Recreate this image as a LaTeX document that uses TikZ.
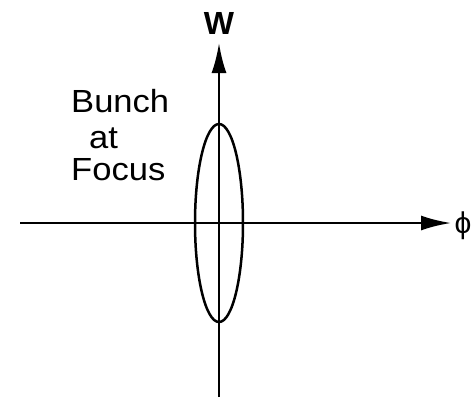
\documentclass[tikz,border=0pt]{standalone}
\usepackage{fontspec}
\setmainfont{Liberation Sans}
\usetikzlibrary{arrows.meta}

\tikzset{
  axis/.style={line width=2.5pt, -{Latex[length=30pt,width=15pt]}},
  lbl/.style={inner sep=0pt, anchor=base west, font=\fontsize{32}{34}\selectfont}
}
\newcommand{\wide}[1]{\scalebox{1.08}[1]{#1}}

\begin{document}
\begin{tikzpicture}[x=1pt,y=-1pt]
\useasboundingbox (0,0) rectangle (473,397);

\coordinate (o) at (219,223);
\coordinate (wbot) at (219,397);
\coordinate (wtop) at (219,43);
\coordinate (pleft) at (20,223);
\coordinate (pright) at (451,223);

\draw[axis] (wbot) -- (wtop);
\draw[axis] (pleft) -- (pright);

\draw[line width=2.5pt] (o) ellipse [x radius=24, y radius=99];

\node[inner sep=0pt, font=\bfseries\fontsize{32}{34}\selectfont] (w) at (219,23) {W};
\node[inner sep=0pt, font=\fontsize{30}{34}\selectfont] (phi) at (463,226) {ϕ};

\node[lbl] (bunch) at (71,112) {\wide{Bunch}};
\node[lbl] (at) at (89,148) {\wide{at}};
\node[lbl] (focus) at (71,180) {\wide{Focus}};
\end{tikzpicture}
\end{document}
